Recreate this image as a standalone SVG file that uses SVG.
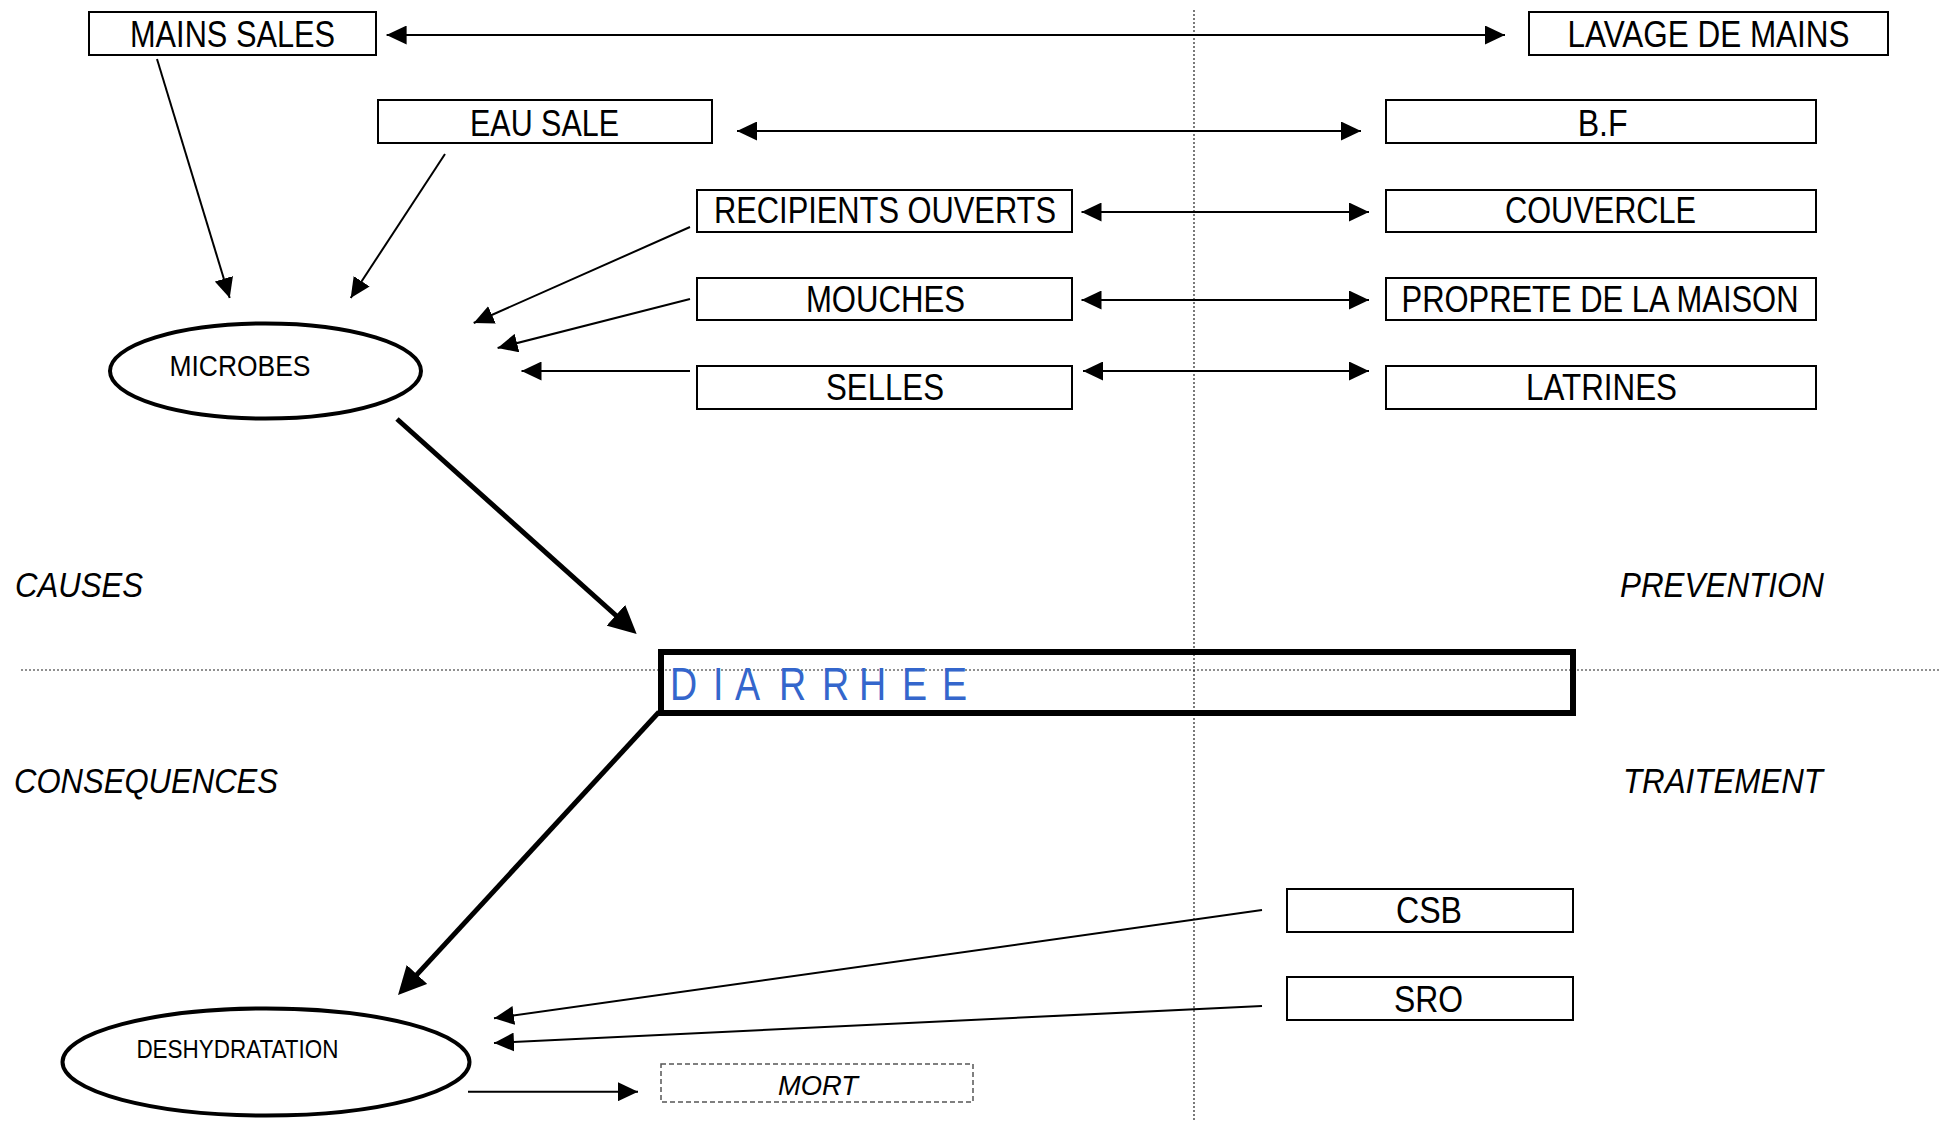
<svg xmlns="http://www.w3.org/2000/svg" width="1951" height="1121" viewBox="0 0 1951 1121">
<style>
.bg{fill:#ffffff}
.box{fill:#ffffff;stroke:#000;stroke-width:2}
.ell{fill:#ffffff;stroke:#000;stroke-width:4}
.t{font-family:"Liberation Sans Narrow","Liberation Sans",Arial,sans-serif;font-size:36px;fill:#000;text-anchor:middle}
.it{font-family:"Liberation Sans Narrow","Liberation Sans",Arial,sans-serif;font-size:35px;font-style:italic;fill:#000}
.thin{stroke:#000;stroke-width:2;fill:none}
.thick{stroke:#000;stroke-width:5;fill:none}
.dot{stroke:#222;stroke-width:1.2;stroke-dasharray:2 2;fill:none}
</style>
<defs>
<marker id="ah" markerUnits="userSpaceOnUse" markerWidth="20" markerHeight="19" refX="20" refY="9.5" orient="auto-start-reverse" viewBox="0 0 20 19">
<path d="M0,0 L20,9.5 L0,19 z" fill="#000"/>
</marker>
<marker id="ahb" markerUnits="userSpaceOnUse" markerWidth="28" markerHeight="28" refX="22" refY="14" orient="auto" viewBox="0 0 28 28">
<path d="M0,0 L28,14 L0,28 z" fill="#000"/>
</marker>
</defs>
<rect class="bg" x="0" y="0" width="1951" height="1121"/>

<g id="guides">
<line class="dot" x1="1194" y1="10" x2="1194" y2="1121"/>
<line class="dot" x1="21" y1="670" x2="1941" y2="670"/>
</g>

<g id="labels">
<text class="it" x="15" y="597" textLength="128" lengthAdjust="spacingAndGlyphs">CAUSES</text>
<text class="it" x="1620" y="597" textLength="204" lengthAdjust="spacingAndGlyphs">PREVENTION</text>
<text class="it" x="14" y="793" textLength="264" lengthAdjust="spacingAndGlyphs">CONSEQUENCES</text>
<text class="it" x="1623" y="793" textLength="200" lengthAdjust="spacingAndGlyphs">TRAITEMENT</text>
</g>

<g id="mains-sales"><rect class="box" x="89" y="12" width="287" height="43"/><text class="t" x="232.5" y="47" textLength="205" lengthAdjust="spacingAndGlyphs">MAINS SALES</text></g>
<g id="lavage-de-mains"><rect class="box" x="1529" y="12" width="359" height="43"/><text class="t" x="1708.5" y="47" textLength="282" lengthAdjust="spacingAndGlyphs">LAVAGE DE MAINS</text></g>
<g id="eau-sale"><rect class="box" x="378" y="100" width="334" height="43"/><text class="t" x="544.5" y="136" textLength="149" lengthAdjust="spacingAndGlyphs">EAU SALE</text></g>
<g id="bf"><rect class="box" x="1386" y="100" width="430" height="43"/><text class="t" x="1602.7" y="136" textLength="50" lengthAdjust="spacingAndGlyphs">B.F</text></g>
<g id="recipients"><rect class="box" x="697" y="190" width="375" height="42"/><text class="t" x="885" y="223" textLength="342" lengthAdjust="spacingAndGlyphs">RECIPIENTS OUVERTS</text></g>
<g id="couvercle"><rect class="box" x="1386" y="190" width="430" height="42"/><text class="t" x="1600.5" y="223" textLength="191" lengthAdjust="spacingAndGlyphs">COUVERCLE</text></g>
<g id="mouches"><rect class="box" x="697" y="278" width="375" height="42"/><text class="t" x="885.4" y="312" textLength="159" lengthAdjust="spacingAndGlyphs">MOUCHES</text></g>
<g id="proprete"><rect class="box" x="1386" y="278" width="430" height="42"/><text class="t" x="1600" y="312" textLength="397" lengthAdjust="spacingAndGlyphs">PROPRETE DE LA MAISON</text></g>
<g id="selles"><rect class="box" x="697" y="366" width="375" height="43"/><text class="t" x="885" y="400" textLength="118" lengthAdjust="spacingAndGlyphs">SELLES</text></g>
<g id="latrines"><rect class="box" x="1386" y="366" width="430" height="43"/><text class="t" x="1601.5" y="400" textLength="151" lengthAdjust="spacingAndGlyphs">LATRINES</text></g>

<g id="microbes"><ellipse class="ell" cx="265.5" cy="371" rx="155.5" ry="47.5"/><text class="t" style="font-size:30px" x="240" y="376" textLength="141" lengthAdjust="spacingAndGlyphs">MICROBES</text></g>

<g id="diarrhee">
<rect x="661" y="652" width="912" height="61" fill="none" stroke="#000" stroke-width="6"/>
<text transform="scale(0.8,1)" y="700" x="837.5 891.3 918.8 973.8 1027.5 1073.8 1127.5 1177.5" style="font-family:'Liberation Sans',Arial,sans-serif;font-size:47px;fill:#3466CC">DIARRHEE</text>
</g>

<g id="deshydratation"><ellipse class="ell" cx="266" cy="1062" rx="203.5" ry="53.5"/><text class="t" style="font-size:26px" x="237.4" y="1058" textLength="202" lengthAdjust="spacingAndGlyphs">DESHYDRATATION</text></g>
<g id="csb"><rect class="box" x="1287" y="889" width="286" height="43"/><text class="t" x="1429" y="923" textLength="66" lengthAdjust="spacingAndGlyphs">CSB</text></g>
<g id="sro"><rect class="box" x="1287" y="977" width="286" height="43"/><text class="t" x="1428.5" y="1012" textLength="69" lengthAdjust="spacingAndGlyphs">SRO</text></g>
<g id="mort"><rect x="661" y="1064" width="312" height="38" fill="none" stroke="#555" stroke-width="1.5" stroke-dasharray="5 3"/><text class="it" style="font-size:28px;text-anchor:middle" x="818" y="1095" textLength="80" lengthAdjust="spacingAndGlyphs">MORT</text></g>

<g id="connectors">
<line class="thin" x1="386.6" y1="35" x2="1505" y2="35" marker-start="url(#ah)" marker-end="url(#ah)"/>
<line class="thin" x1="737" y1="131" x2="1361" y2="131" marker-start="url(#ah)" marker-end="url(#ah)"/>
<line class="thin" x1="1081.5" y1="212" x2="1369" y2="212" marker-start="url(#ah)" marker-end="url(#ah)"/>
<line class="thin" x1="1081.5" y1="300" x2="1369" y2="300" marker-start="url(#ah)" marker-end="url(#ah)"/>
<line class="thin" x1="1083" y1="371" x2="1369" y2="371" marker-start="url(#ah)" marker-end="url(#ah)"/>
<line class="thin" x1="157" y1="59" x2="229.7" y2="298" marker-end="url(#ah)"/>
<line class="thin" x1="445" y1="154" x2="350.7" y2="298" marker-end="url(#ah)"/>
<line class="thin" x1="690" y1="227" x2="473.7" y2="323" marker-end="url(#ah)"/>
<line class="thin" x1="690" y1="299" x2="497.6" y2="348" marker-end="url(#ah)"/>
<line class="thin" x1="690" y1="371" x2="521.5" y2="371" marker-end="url(#ah)"/>
<line class="thick" x1="397" y1="419" x2="632.2" y2="630" marker-end="url(#ahb)"/>
<line class="thick" x1="659" y1="712" x2="402.1" y2="990.6" marker-end="url(#ahb)"/>
<line class="thin" x1="1262" y1="910" x2="494" y2="1018.3" marker-end="url(#ah)"/>
<line class="thin" x1="1262" y1="1006" x2="494" y2="1043" marker-end="url(#ah)"/>
<line class="thin" x1="468" y1="1091.7" x2="638" y2="1091.7" marker-end="url(#ah)"/>
</g>
</svg>
